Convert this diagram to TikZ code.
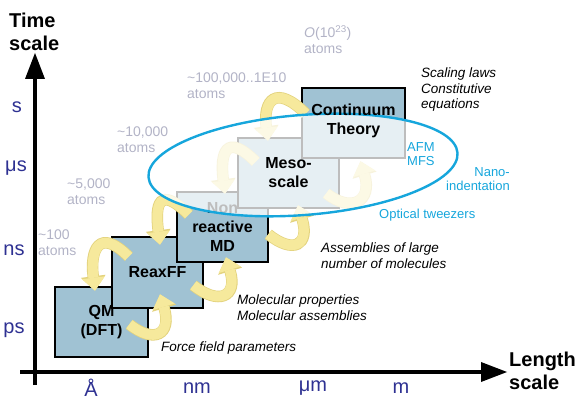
\documentclass[tikz,border=0pt]{standalone}
\usepackage{fontspec}
\setmainfont{Liberation Sans}
\usetikzlibrary{arrows.meta}

\definecolor{boxblue}{HTML}{A0C2D3}
\definecolor{loopyellow}{HTML}{F6E99C}
\definecolor{loopedge}{HTML}{E3D37E}
\definecolor{ringcyan}{HTML}{16A6DC}
\definecolor{atomgrey}{HTML}{B2B3C6}
\definecolor{tickblue}{HTML}{2E3192}

\tikzset{
  method/.style={draw=black, line width=2.6pt, fill=boxblue, inner sep=0pt,
    font=\fontsize{16}{19}\selectfont\bfseries, align=center},
  methodtext/.style={font=\fontsize{16}{19}\selectfont\bfseries, align=center},
  exchange/.style={line width=10pt, draw=loopyellow,
    -{Triangle[length=13pt,width=23pt,line width=0pt]},
    preaction={draw=loopedge, line width=11.5pt,
      -{Triangle[length=14.5pt,width=25pt,line width=0pt]}}},
  atoms/.style={text=atomgrey, font=\fontsize{14}{16}\selectfont,
    align=left, anchor=west, inner sep=0pt},
  note/.style={font=\fontsize{13.5}{15.5}\selectfont\itshape,
    align=left, anchor=west, inner sep=0pt},
  probe/.style={text=ringcyan, font=\fontsize{13}{14}\selectfont,
    align=left, anchor=west, inner sep=0pt},
  tick/.style={text=tickblue, font=\fontsize{20}{20}\selectfont, inner sep=0pt},
  axislabel/.style={font=\fontsize{20}{23}\selectfont\bfseries,
    align=left, anchor=west, inner sep=0pt},
  axis/.style={line width=4pt, -{Triangle[length=26pt,width=20pt,line width=0pt]}}
}

\begin{document}
\begin{tikzpicture}[x=1pt, y=-1pt]
  \useasboundingbox (0,0) rectangle (582,401);

  % axes
  \coordinate (tbottom) at (35,385);
  \coordinate (ttop) at (35,53);
  \coordinate (lleft) at (20,372);
  \coordinate (lright) at (507,372);
  \draw[axis] (tbottom) -- (ttop);
  \draw[axis] (lleft) -- (lright);

  \node[axislabel] (tlabel) at (9,32) {Time\\scale};
  \node[axislabel] (llabel) at (509,371) {Length\\scale};

  \node[tick] (ts) at (17,107) {s};
  \node[tick] (tus) at (16,168) {μs};
  \node[tick] (tns) at (14,250) {ns};
  \node[tick] (tps) at (14,330) {ps};

  \node[tick] (lA) at (91,388) {Å};
  \node[tick] (lnm) at (197,388) {nm};
  \node[tick] (lum) at (313,388) {μm};
  \node[tick] (lm) at (401,388) {m};

  % the staircase of methods
  \node[method, minimum width=93pt, minimum height=70pt] (qm) at (101.5,322) {QM\\(DFT)};
  \node[method, minimum width=91pt, minimum height=71pt] (reax) at (157.5,272.5) {ReaxFF};
  \node[method, minimum width=91pt, minimum height=70pt] (nonmd) at (222.5,227) {Non\\reactive\\MD};
  \node[method, minimum width=101pt, minimum height=70pt] (meso) at (288.5,173) {};
  \node[method, minimum width=103pt, minimum height=70pt] (cont) at (353.5,123) {};

  % hand-over arrows, down then up for each step
  \draw[exchange] ([shift={(18,21)}]reax.north west) .. controls +(-30,-30) and +(-5,-40) .. ([shift={(-6.5,5)}]qm.north);
  \draw[exchange] ([shift={(-20,-34)}]qm.south east) .. controls +(25,20) and +(12,40) .. ([shift={(2.5,-15)}]reax.south);

  \draw[exchange] ([shift={(13,24)}]nonmd.north west) .. controls +(-30,-30) and +(-5,-40) .. ([shift={(2.5,9)}]reax.north);
  \draw[exchange] ([shift={(-11,-24)}]reax.south east) .. controls +(25,20) and +(12,40) .. ([shift={(3.5,-6)}]nonmd.south);

  \draw[exchange] ([shift={(19,25)}]meso.north west) .. controls +(-30,-30) and +(-5,-40) .. ([shift={(2.5,3)}]nonmd.north);
  \draw[exchange] ([shift={(-1,-29)}]nonmd.south east) .. controls +(25,20) and +(12,40) .. ([shift={(9.5,-4)}]meso.south);

  \draw[exchange] ([shift={(5,27)}]cont.north west) .. controls +(-30,-30) and +(-5,-40) .. ([shift={(-20.5,4)}]meso.north);
  \draw[exchange] ([shift={(-14,-16)}]meso.south east) .. controls +(25,20) and +(12,40) .. ([shift={(7,2)}]cont.south);

  % experiments ring
  \fill[white, fill opacity=0.74, rotate around={4.5:(303,165)}] (303,165) ellipse [x radius=155, y radius=50];
  \draw[ringcyan, line width=2.4pt, rotate around={4.5:(303,165)}] (303,165) ellipse [x radius=155, y radius=50];

  \node[methodtext] at (meso) {Meso-\\scale};
  \node[methodtext] at ([yshift=2]cont.center) {Continuum\\Theory};

  % system sizes
  \node[atoms] at (38,243) {\textasciitilde100\\atoms};
  \node[atoms] at (67,191.5) {\textasciitilde5,000\\atoms};
  \node[atoms] at (117,140) {\textasciitilde10,000\\atoms};
  \node[atoms] at (187,86) {\textasciitilde100,000..1E10\\atoms};
  \node[atoms] at (304,40) {\textit{O}(10\textsuperscript{23})\\atoms};

  % what each method feeds
  \node[note] at (421,90) {Scaling laws\\Constitutive\\equations};
  \node[note] at (321,255.5) {Assemblies of large\\number of molecules};
  \node[note] at (237,307.5) {Molecular properties\\Molecular assemblies};
  \node[note] at (161,348) {Force field parameters};

  \node[probe] at (407,154) {AFM\\MFS};
  \node[probe, anchor=east, align=right] at (510,179) {Nano-\\indentation};
  \node[probe] at (379,215) {Optical tweezers};
\end{tikzpicture}
\end{document}
